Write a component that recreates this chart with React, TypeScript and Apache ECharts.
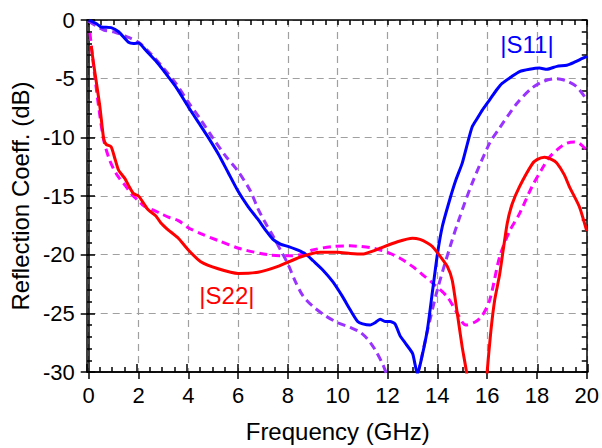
import React, { useEffect, useRef } from "react";
import * as echarts from "echarts";

const X_MIN = 0;
const X_MAX = 20;
const X_STEP = 2;
const Y_MIN = -30;
const Y_MAX = 0;
const Y_STEP = 5;

const s11Measured: number[][] = [
  [0, 0], [0.3, -0.3], [0.5, -0.6], [0.9, -0.65], [1.2, -1.0], [1.6, -1.9], [1.8, -2.0], [2.0, -1.95],
  [2.3, -2.6], [2.7, -3.5], [3.0, -4.3], [3.5, -5.7], [4.0, -7.4], [4.4, -8.7], [4.8, -10.0], [5.2, -11.4],
  [5.6, -13.0], [6.0, -14.6], [6.4, -15.9], [6.8, -17.0], [7.1, -17.9], [7.4, -18.7], [7.7, -19.1],
  [8.0, -19.3], [8.5, -19.7], [8.8, -20.1], [9.0, -20.5], [9.4, -21.3], [9.8, -22.3], [10.2, -23.6],
  [10.5, -24.7], [10.8, -25.7], [11.0, -25.9], [11.3, -26.0], [11.5, -25.8], [11.7, -25.5], [11.9, -25.7],
  [12.1, -25.7], [12.3, -25.9], [12.5, -26.9], [12.7, -27.5], [13.0, -28.4], [13.1, -29.3], [13.2, -30.2],
  [13.35, -29.0], [13.6, -26.4], [13.8, -23.2], [14.0, -20.0], [14.2, -17.6], [14.5, -15.3], [14.75, -13.6],
  [15.0, -12.2], [15.2, -10.6], [15.4, -9.1], [15.6, -8.4], [15.8, -7.7], [16.1, -6.8], [16.4, -5.9],
  [16.6, -5.4], [17.0, -4.8], [17.3, -4.4], [17.7, -4.2], [18.1, -4.1], [18.4, -4.2], [18.8, -3.95],
  [19.2, -3.85], [19.5, -3.6], [19.8, -3.3], [20, -3.1],
];

const s11Simulated: number[][] = [
  [0, -0.1], [0.3, -0.5], [0.6, -0.85], [1.0, -1.0], [1.5, -1.4], [2.0, -1.9], [2.5, -2.9], [3.0, -4.1],
  [3.5, -5.4], [4.0, -7.0], [4.5, -8.5], [5.0, -10.1], [5.5, -11.6], [6.0, -12.9], [6.5, -14.6],
  [6.8, -16.1], [7.1, -17.3], [7.4, -18.4], [7.7, -19.6], [8.0, -20.8], [8.3, -22.3], [8.6, -23.5],
  [9.0, -24.4], [9.5, -25.2], [10.0, -25.8], [10.5, -26.2], [10.9, -26.6], [11.2, -27.2], [11.5, -28.1],
  [11.8, -29.3], [12.0, -30.3], [12.6, -32.0], [13.0, -31.2], [13.25, -29.8], [13.6, -26.5], [14.0, -23.0],
  [14.5, -19.4], [14.9, -16.8], [15.4, -13.9], [16.1, -10.5], [16.5, -9.2], [17.2, -7.1], [17.8, -5.8],
  [18.3, -5.2], [18.8, -5.0], [19.2, -5.2], [19.6, -5.7], [20, -6.8],
];

const s22Measured: number[][] = [
  [0.1, -2.2], [0.2, -3.8], [0.3, -5.2], [0.45, -7.4], [0.6, -10.1], [0.7, -10.6], [0.9, -10.8],
  [1.05, -11.8], [1.2, -12.8], [1.45, -13.5], [1.6, -14.1], [1.8, -14.8], [2.0, -15.0], [2.2, -15.6],
  [2.4, -16.2], [2.7, -16.7], [2.9, -17.3], [3.2, -17.9], [3.6, -18.6], [4.0, -19.6], [4.5, -20.6],
  [5.2, -21.2], [6.0, -21.6], [6.8, -21.5], [7.6, -21.0], [8.5, -20.2], [9.3, -19.8], [10.0, -19.8],
  [10.5, -19.9], [11.0, -19.95], [11.4, -19.7], [11.7, -19.45], [12.4, -18.9], [13.0, -18.6], [13.3, -18.7],
  [13.6, -19.0], [13.8, -19.3], [14.1, -20.1], [14.4, -21.0], [14.6, -22.2], [14.8, -25.0], [15.0, -27.9],
  [15.17, -30], [15.5, -36], [15.8, -36], [16.0, -30], [16.15, -26.5], [16.3, -23.9], [16.5, -21.7],
  [16.8, -17.4], [17.0, -15.7], [17.3, -14.2], [17.8, -12.3], [18.0, -11.9], [18.3, -11.7], [18.6, -11.9],
  [18.8, -12.2], [19.1, -13.2], [19.3, -14.2], [19.7, -15.9], [20, -18.0],
];

const s22Simulated: number[][] = [
  [0.05, -1.1], [0.2, -4.0], [0.4, -7.4], [0.6, -10.2], [0.8, -11.7], [1.0, -12.7], [1.2, -13.4],
  [1.5, -14.2], [1.7, -14.8], [2.0, -15.4], [2.25, -15.9], [2.6, -16.2], [2.9, -16.5], [3.2, -16.8],
  [3.6, -17.1], [4.0, -17.7], [4.5, -18.2], [5.2, -18.8], [6.1, -19.5], [7.2, -20.0], [8.0, -20.1],
  [8.5, -20.0], [9.0, -19.6], [9.8, -19.3], [10.5, -19.25], [10.9, -19.3], [11.3, -19.4], [11.7, -19.6],
  [12.0, -19.8], [12.5, -20.3], [13.0, -21.0], [13.4, -21.7], [13.8, -22.4], [14.4, -23.6], [14.8, -25.0],
  [15.15, -26.0], [15.55, -25.7], [15.8, -25.2], [16.1, -23.9], [16.5, -20.2], [16.9, -18.0], [17.3, -16.5],
  [17.8, -14.2], [18.2, -12.7], [18.5, -11.7], [18.9, -10.9], [19.2, -10.5], [19.5, -10.4], [19.7, -10.5],
  [20, -11.1],
];

const curveLabels = [
  { text: "|S11|", x: 17.6, y: -2.13, color: "#0000ff" },
  { text: "|S22|", x: 5.55, y: -23.5, color: "#ff0000" },
];

const FONT = "'Liberation Sans', Arial, Helvetica, sans-serif";

export default function App() {
  const ref = useRef<HTMLDivElement>(null);

  useEffect(() => {
    if (!ref.current) return;
    const chart = echarts.init(ref.current, undefined, { renderer: "svg" });

    const black = { color: "#000", width: 1.5 };
    const axisLine = { show: true, onZero: false, lineStyle: black };
    const baseX = { type: "value", min: X_MIN, max: X_MAX, interval: X_STEP };
    const baseY = { type: "value", min: Y_MIN, max: Y_MAX, interval: Y_STEP };
    const gridRect = { left: 87, right: 14, top: 20, bottom: 76, containLabel: false };
    const split = { show: true, lineStyle: { color: "#a0a0a0", type: [7, 5], width: 1.2 } };

    const option: any = {
      animation: false,
      backgroundColor: "#fff",
      grid: [{ ...gridRect }, { ...gridRect }],
      xAxis: [
        {
          ...baseX,
          gridIndex: 0,
          position: "bottom",
          name: "Frequency (GHz)",
          nameLocation: "middle",
          nameGap: 47,
          nameTextStyle: { fontFamily: FONT, fontSize: 24, color: "#000" },
          axisLine,
          axisTick: { show: true, inside: false, length: 7, lineStyle: black },
          minorTick: { show: false },
          axisLabel: { show: true, fontFamily: FONT, fontSize: 22, color: "#000", margin: 12 },
          splitLine: split,
        },
        {
          ...baseX,
          gridIndex: 0,
          position: "top",
          axisLine,
          axisTick: { show: true, inside: true, length: 5, lineStyle: black },
          minorTick: { show: true, splitNumber: 4, length: 5, lineStyle: black },
          axisLabel: { show: false },
          splitLine: { show: false },
        },
        {
          ...baseX,
          gridIndex: 1,
          position: "bottom",
          axisLine,
          axisTick: { show: true, inside: true, length: 8, lineStyle: black },
          minorTick: { show: true, splitNumber: 4, length: 5, lineStyle: black },
          axisLabel: { show: false },
          splitLine: { show: false },
        },
      ],
      yAxis: [
        {
          ...baseY,
          gridIndex: 0,
          position: "left",
          name: "Reflection Coeff. (dB)",
          nameLocation: "middle",
          nameGap: 52,
          nameTextStyle: { fontFamily: FONT, fontSize: 24, color: "#000" },
          axisLine,
          axisTick: { show: true, inside: false, length: 8, lineStyle: black },
          minorTick: { show: false },
          axisLabel: { show: true, fontFamily: FONT, fontSize: 22, color: "#000", margin: 14 },
          splitLine: split,
        },
        {
          ...baseY,
          gridIndex: 0,
          position: "right",
          axisLine,
          axisTick: { show: true, inside: true, length: 5, lineStyle: black },
          minorTick: { show: true, splitNumber: 5, length: 5, lineStyle: black },
          axisLabel: { show: false },
          splitLine: { show: false },
        },
        {
          ...baseY,
          gridIndex: 1,
          position: "left",
          axisLine,
          axisTick: { show: true, inside: true, length: 8, lineStyle: black },
          minorTick: { show: true, splitNumber: 5, length: 5, lineStyle: black },
          axisLabel: { show: false },
          splitLine: { show: false },
        },
      ],
      series: [
        {
          name: "S11 sim",
          type: "line",
          xAxisIndex: 0,
          yAxisIndex: 0,
          data: s11Simulated,
          showSymbol: false,
          smooth: 0.3,
          clip: true,
          lineStyle: { color: "#9933ff", width: 3, type: [8, 5] },
        },
        {
          name: "S22 sim",
          type: "line",
          xAxisIndex: 0,
          yAxisIndex: 0,
          data: s22Simulated,
          showSymbol: false,
          smooth: 0.3,
          clip: true,
          lineStyle: { color: "#ff00ff", width: 3, type: [8, 5] },
        },
        {
          name: "S11 meas",
          type: "line",
          xAxisIndex: 0,
          yAxisIndex: 0,
          data: s11Measured,
          showSymbol: false,
          smooth: 0.2,
          clip: true,
          lineStyle: { color: "#0000ff", width: 3 },
        },
        {
          name: "S22 meas",
          type: "line",
          xAxisIndex: 0,
          yAxisIndex: 0,
          data: s22Measured,
          showSymbol: false,
          smooth: 0.2,
          clip: true,
          lineStyle: { color: "#ff0000", width: 3 },
        },
      ],
    };

    chart.setOption(option);

    const graphic = curveLabels.map((l) => {
      const p = chart.convertToPixel({ xAxisIndex: 0, yAxisIndex: 0 }, [l.x, l.y]) as number[];
      return {
        type: "text",
        x: p[0],
        y: p[1],
        style: {
          text: l.text,
          fill: l.color,
          font: `24px ${FONT}`,
          textAlign: "center",
          textVerticalAlign: "middle",
        },
      };
    });
    chart.setOption({ graphic });

    return () => chart.dispose();
  }, []);

  return <div ref={ref} style={{ width: 602, height: 448, position: "absolute", left: 0, top: 0 }} />;
}
